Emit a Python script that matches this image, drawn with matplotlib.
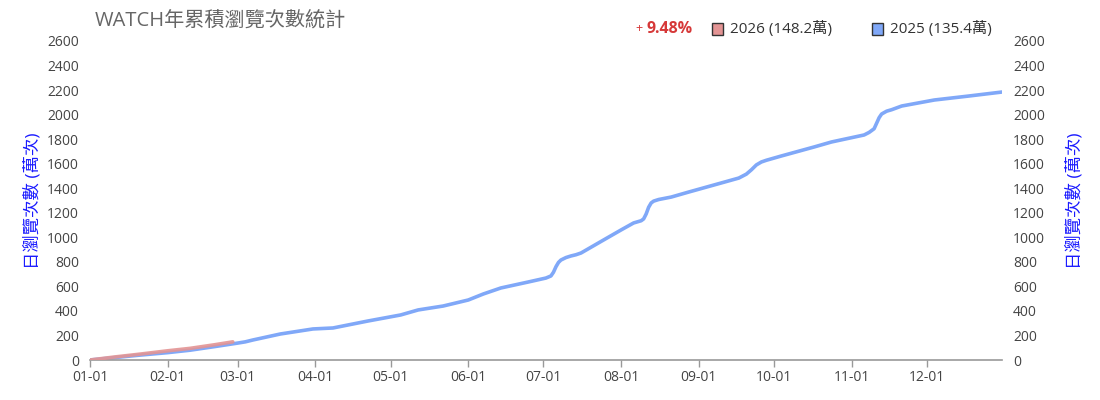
import matplotlib
matplotlib.use("Agg")
import matplotlib.pyplot as plt
import matplotlib.patches as mpatches
import pandas as pd

plt.rcParams['font.family'] = ['Open Sans', 'Noto Sans CJK TC', 'DejaVu Sans']

# ---- data (cumulative views, 萬次) ----
dates_2025 = ["01-01", "01-11", "01-21", "02-01", "02-10", "02-20", "03-01", "03-04", "03-07",
              "03-18", "03-31", "04-08", "04-22", "05-05", "05-12", "05-22", "06-01",
              "06-07", "06-14", "06-25", "07-02", "07-04", "07-05", "07-06", "07-07", "07-08",
              "07-10", "07-12", "07-14", "07-16", "07-25", "08-01", "08-06", "08-09", "08-10",
              "08-11", "08-12", "08-13", "08-14", "08-16", "08-21", "08-28", "09-10", "09-17",
              "09-20", "09-22", "09-24", "09-26", "09-28", "10-04", "10-17", "10-24", "11-06",
              "11-08", "11-10", "11-11", "11-12", "11-13", "11-15", "11-17", "11-21", "12-04",
              "12-18", "12-31"]
values_2025 = [0, 20, 40, 60, 80, 110, 138, 148, 163,
               212, 253, 261, 318, 367, 408, 440, 489,
               538, 587, 636, 668, 685, 715, 760, 795, 815,
               835, 848, 858, 872, 978, 1060, 1117, 1135, 1150,
               1190, 1245, 1280, 1295, 1308, 1328, 1369, 1443, 1483,
               1515, 1550, 1590, 1614, 1628, 1663, 1736, 1777, 1834,
               1855, 1885, 1930, 1975, 2005, 2028, 2040, 2070, 2119,
               2152, 2184]

dates_2026 = ["01-01", "01-11", "01-21", "02-01", "02-10", "02-20", "02-27"]
values_2026 = [0, 25, 48, 75, 95, 125, 148]

month_ticks = ["01-01", "02-01", "03-01", "04-01", "05-01", "06-01",
               "07-01", "08-01", "09-01", "10-01", "11-01", "12-01"]
y_ticks = list(range(0, 2601, 200))

title = "WATCH年累積瀏覽次數統計"
growth_text = "9.48%"
legend_labels = ["2026 (148.2萬)", "2025 (135.4萬)"]
ylabel = "日瀏覽次數 (萬次)"

c2025 = "#80a8f8"
c2026 = "#e39494"

def to_dt(lst):
    return pd.to_datetime(["2025-" + d for d in lst])

fig = plt.figure(figsize=(11, 4), dpi=100)
ax = fig.add_axes([0.0818, 0.1, 0.829, 0.7975])

ax.plot(to_dt(dates_2025), values_2025, color=c2025, lw=2.6, solid_capstyle='round',
        solid_joinstyle='round', zorder=2)
ax.plot(to_dt(dates_2026), values_2026, color=c2026, lw=2.6, alpha=0.9,
        solid_capstyle='round', solid_joinstyle='round', zorder=3)

ax.set_xlim(pd.Timestamp("2025-01-01"), pd.Timestamp("2025-12-31"))
ax.set_ylim(0, 2600)
ax.set_xticks(to_dt(month_ticks))
ax.set_xticklabels(month_ticks)
ax.set_yticks(y_ticks)

for s in ["top", "left", "right"]:
    ax.spines[s].set_visible(False)
ax.spines["bottom"].set_color("#999999")
ax.spines["bottom"].set_linewidth(1.2)

ax.tick_params(axis='x', colors="#999999", labelcolor="#444444", labelsize=10,
               length=5, width=1, pad=2)
ax.tick_params(axis='y', length=0, labelcolor="#444444", labelsize=10, pad=8)

ax2 = ax.twinx()
ax2.set_ylim(0, 2600)
ax2.set_yticks(y_ticks)
for s in ["top", "left", "right", "bottom"]:
    ax2.spines[s].set_visible(False)
ax2.tick_params(axis='y', length=0, labelcolor="#444444", labelsize=10, pad=8)

ax.set_ylabel(ylabel, color="#1a1aff", fontsize=12.5, labelpad=4)
ax2.set_ylabel(ylabel, color="#1a1aff", fontsize=12.5, rotation=90, labelpad=15)

fig.text(0.086, 0.948, title, fontsize=14.5, color="#666666", va='center', ha='left')

# legend row
fig.text(0.578, 0.928, "+", fontsize=9, color="#d63838", va='center', ha='left')
fig.text(0.588, 0.928, growth_text, fontsize=11.5, color="#d63838", va='center',
         ha='left', fontweight='bold')
fig.patches.append(mpatches.Rectangle((0.6475, 0.913), 0.0095, 0.03, transform=fig.transFigure,
                                      facecolor=c2026, edgecolor="#333333", lw=1))
fig.text(0.664, 0.928, legend_labels[0], fontsize=11, color="#333333", va='center', ha='left')
fig.patches.append(mpatches.Rectangle((0.793, 0.913), 0.0095, 0.03, transform=fig.transFigure,
                                      facecolor=c2025, edgecolor="#333333", lw=1))
fig.text(0.809, 0.928, legend_labels[1], fontsize=11, color="#333333", va='center', ha='left')

fig.savefig("out.png", dpi=100, facecolor="white")
